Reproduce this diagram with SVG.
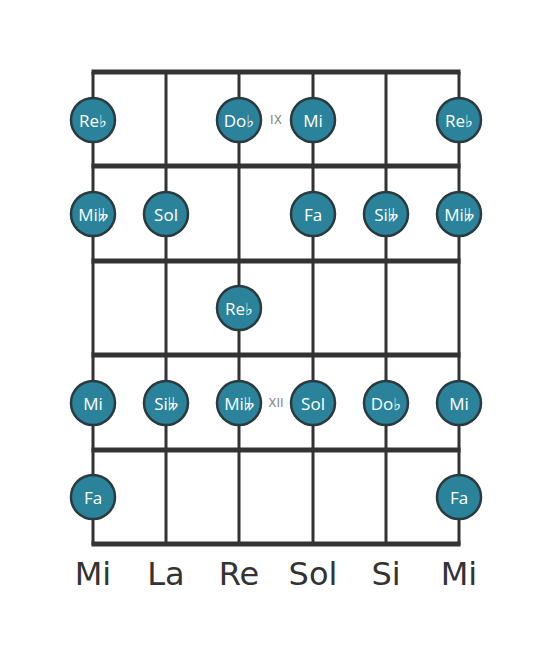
<svg xmlns="http://www.w3.org/2000/svg" width="553" height="656" viewBox="0 0 553 656">
<style>
.str{stroke:#333;stroke-width:3;fill:none}
.fret{stroke:#333;stroke-width:5;fill:none}
.note circle{fill:#2a839b;stroke:#2b3a3e;stroke-width:2.5}
.note text{fill:#fff;font-family:"Open Sans","DejaVu Sans",sans-serif;font-size:17px;text-anchor:middle;dominant-baseline:central}
.pos{fill:#888;font-family:"DejaVu Sans",sans-serif;font-size:12px;text-anchor:middle;dominant-baseline:central}
.sname{fill:#333;font-family:"DejaVu Sans",sans-serif;font-size:32px;text-anchor:middle}
</style>
<rect width="553" height="656" fill="#fff"/>
<g id="connectors">
<line class="str" x1="93" y1="72" x2="93" y2="545"/>
<line class="str" x1="166" y1="72" x2="166" y2="545"/>
<line class="str" x1="239" y1="72" x2="239" y2="545"/>
<line class="str" x1="313" y1="72" x2="313" y2="545"/>
<line class="str" x1="386" y1="72" x2="386" y2="545"/>
<line class="str" x1="459" y1="72" x2="459" y2="545"/>
<line class="fret" x1="91.5" y1="72" x2="460.5" y2="72"/>
<line class="fret" x1="91.5" y1="166" x2="460.5" y2="166"/>
<line class="fret" x1="91.5" y1="261" x2="460.5" y2="261"/>
<line class="fret" x1="91.5" y1="355" x2="460.5" y2="355"/>
<line class="fret" x1="91.5" y1="450" x2="460.5" y2="450"/>
<line class="fret" x1="91.5" y1="544" x2="460.5" y2="544"/>
</g>
<text class="pos" x="276" y="120">IX</text>
<text class="pos" x="276" y="403">XII</text>
<g id="n1a" class="note"><circle cx="93" cy="120" r="22"/><text x="93" y="120">Re♭</text></g>
<g id="n1b" class="note"><circle cx="239" cy="120" r="22"/><text x="239" y="120">Do♭</text></g>
<g id="n1c" class="note"><circle cx="313" cy="120" r="22"/><text x="313" y="120">Mi</text></g>
<g id="n1d" class="note"><circle cx="459" cy="120" r="22"/><text x="459" y="120">Re♭</text></g>
<g id="n2a" class="note"><circle cx="93" cy="214" r="22"/><text x="93" y="214">Mi𝄫</text></g>
<g id="n2b" class="note"><circle cx="166" cy="214" r="22"/><text x="166" y="214">Sol</text></g>
<g id="n2c" class="note"><circle cx="313" cy="214" r="22"/><text x="313" y="214">Fa</text></g>
<g id="n2d" class="note"><circle cx="386" cy="214" r="22"/><text x="386" y="214">Si𝄫</text></g>
<g id="n2e" class="note"><circle cx="459" cy="214" r="22"/><text x="459" y="214">Mi𝄫</text></g>
<g id="n3a" class="note"><circle cx="239" cy="308" r="22"/><text x="239" y="308">Re♭</text></g>
<g id="n4a" class="note"><circle cx="93" cy="403" r="22"/><text x="93" y="403">Mi</text></g>
<g id="n4b" class="note"><circle cx="166" cy="403" r="22"/><text x="166" y="403">Si𝄫</text></g>
<g id="n4c" class="note"><circle cx="239" cy="403" r="22"/><text x="239" y="403">Mi𝄫</text></g>
<g id="n4d" class="note"><circle cx="313" cy="403" r="22"/><text x="313" y="403">Sol</text></g>
<g id="n4e" class="note"><circle cx="386" cy="403" r="22"/><text x="386" y="403">Do♭</text></g>
<g id="n4f" class="note"><circle cx="459" cy="403" r="22"/><text x="459" y="403">Mi</text></g>
<g id="n5a" class="note"><circle cx="93" cy="497" r="22"/><text x="93" y="497">Fa</text></g>
<g id="n5b" class="note"><circle cx="459" cy="497" r="22"/><text x="459" y="497">Fa</text></g>
<g id="labels">
<text class="sname" x="93" y="585">Mi</text>
<text class="sname" x="166" y="585">La</text>
<text class="sname" x="239" y="585">Re</text>
<text class="sname" x="313" y="585">Sol</text>
<text class="sname" x="386" y="585">Si</text>
<text class="sname" x="459" y="585">Mi</text>
</g>
</svg>
